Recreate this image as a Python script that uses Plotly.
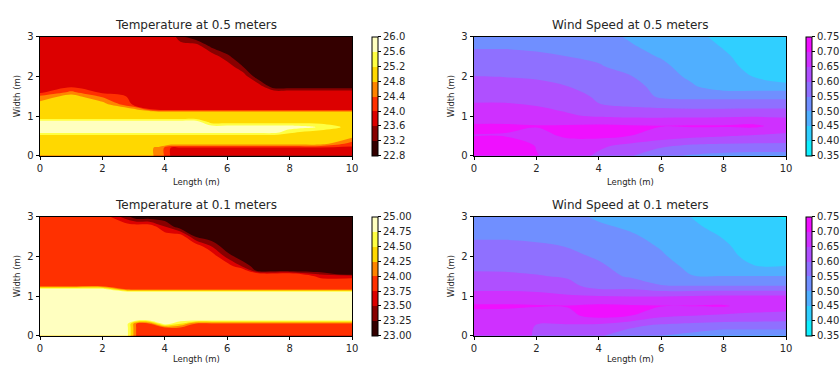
import plotly.graph_objects as go

# ---------------- data ----------------
# Temperature at 0.5 m (rows = width positions, columns = length positions)
temp05_x = [0, 1, 2, 3, 3.8, 4.2, 4.5, 5, 5.5, 6, 6.5, 7, 7.5, 8, 9, 10]
temp05_y = [0, 0.2, 0.3, 0.5, 0.6, 0.72, 0.85, 0.95, 1.1, 1.16, 1.3, 1.5, 1.6, 1.75, 2.0, 2.25, 2.5, 2.75, 3.0]
temp05_z = [
    [25.0, 25.0, 25.0, 25.0, 24.75, 23.95, 23.9, 23.9, 23.9, 23.9, 23.9, 23.9, 23.9, 23.9, 23.9, 23.9],
    [25.0, 25.0, 25.0, 25.0, 24.75, 23.95, 23.9, 23.9, 23.9, 23.9, 23.9, 23.9, 23.9, 23.9, 23.9, 23.9],
    [25.0, 25.0, 25.0, 25.0, 25.0, 25.0, 25.0, 25.0, 25.0, 25.0, 25.0, 25.0, 25.0, 25.0, 25.0, 24.2],
    [25.0, 25.0, 25.0, 25.0, 25.0, 25.0, 25.0, 25.0, 25.0, 25.0, 25.0, 25.0, 25.0, 25.0, 25.0, 25.0],
    [25.85, 25.85, 25.85, 25.85, 25.85, 25.85, 25.85, 25.85, 25.85, 25.85, 25.85, 25.85, 25.85, 25.3, 25.0, 25.0],
    [25.85, 25.85, 25.85, 25.85, 25.85, 25.85, 25.85, 25.85, 25.85, 25.85, 25.85, 25.85, 25.85, 25.85, 25.55, 25.0],
    [25.85, 25.85, 25.85, 25.85, 25.85, 25.85, 25.85, 25.85, 25.0, 25.0, 25.0, 25.0, 25.0, 25.0, 25.0, 25.0],
    [25.0, 25.0, 25.0, 25.0, 25.0, 25.0, 25.0, 25.0, 25.0, 25.0, 25.0, 25.0, 25.0, 25.0, 25.0, 25.0],
    [25.0, 25.0, 25.0, 25.0, 25.0, 25.0, 25.0, 25.0, 25.0, 25.0, 25.0, 25.0, 25.0, 25.0, 25.0, 25.0],
    [25.0, 25.0, 25.0, 25.0, 23.9, 23.9, 23.9, 23.9, 23.9, 23.9, 23.9, 23.9, 23.9, 23.9, 23.9, 23.9],
    [25.0, 25.0, 25.0, 23.9, 23.9, 23.9, 23.9, 23.9, 23.9, 23.9, 23.9, 23.9, 23.9, 23.9, 23.9, 23.9],
    [24.45, 25.0, 24.3, 23.9, 23.9, 23.9, 23.9, 23.9, 23.9, 23.9, 23.9, 23.9, 23.9, 23.9, 23.9, 23.9],
    [23.9, 24.5, 23.9, 23.9, 23.9, 23.9, 23.9, 23.9, 23.9, 23.9, 23.9, 23.9, 23.9, 23.9, 23.9, 23.9],
    [23.9, 23.9, 23.9, 23.9, 23.9, 23.9, 23.9, 23.9, 23.9, 23.9, 23.9, 23.9, 22.85, 22.85, 22.85, 22.85],
    [23.9, 23.9, 23.9, 23.9, 23.9, 23.9, 23.9, 23.9, 23.9, 23.9, 23.9, 22.85, 22.85, 22.85, 22.85, 22.85],
    [23.9, 23.9, 23.9, 23.9, 23.9, 23.9, 23.9, 23.9, 23.9, 23.9, 23.2, 22.85, 22.85, 22.85, 22.85, 22.85],
    [23.9, 23.9, 23.9, 23.9, 23.9, 23.9, 23.9, 23.9, 23.9, 23.3, 22.85, 22.85, 22.85, 22.85, 22.85, 22.85],
    [23.9, 23.9, 23.9, 23.9, 23.9, 23.9, 23.9, 23.9, 23.1, 22.85, 22.85, 22.85, 22.85, 22.85, 22.85, 22.85],
    [23.9, 23.9, 23.9, 23.9, 23.9, 23.9, 23.3, 22.85, 22.85, 22.85, 22.85, 22.85, 22.85, 22.85, 22.85, 22.85],
]
temp05_levels = [22.8, 23.2, 23.6, 24.0, 24.4, 24.8, 25.2, 25.6, 26.0]
temp05_ticks = ["22.8", "23.2", "23.6", "24.0", "24.4", "24.8", "25.2", "25.6", "26.0"]

# Temperature at 0.1 m
temp01_x = [0, 1, 2, 2.8, 3.1, 3.5, 4, 4.5, 5, 5.5, 6, 6.5, 7, 8, 9, 10]
temp01_y = [0, 0.2, 0.3, 0.4, 0.6, 0.9, 1.1, 1.17, 1.25, 1.5, 1.55, 1.65, 1.75, 2.0, 2.25, 2.5, 2.75, 3.0]
temp01_z = [
    [24.9, 24.9, 24.9, 24.8, 23.95, 23.95, 23.95, 23.95, 23.95, 23.95, 23.95, 23.95, 23.95, 23.95, 23.95, 23.95],
    [24.9, 24.9, 24.9, 24.8, 23.95, 23.95, 23.95, 23.95, 23.95, 23.95, 23.95, 23.95, 23.95, 23.95, 23.95, 23.95],
    [24.9, 24.9, 24.9, 24.8, 23.95, 23.95, 24.9, 24.5, 23.95, 23.95, 23.95, 23.95, 23.95, 23.95, 23.95, 23.95],
    [24.9, 24.9, 24.9, 24.9, 24.9, 24.9, 24.9, 24.9, 24.9, 24.9, 24.9, 24.9, 24.9, 24.9, 24.9, 24.9],
    [24.9, 24.9, 24.9, 24.9, 24.9, 24.9, 24.9, 24.9, 24.9, 24.9, 24.9, 24.9, 24.9, 24.9, 24.9, 24.9],
    [24.9, 24.9, 24.9, 24.9, 24.9, 24.9, 24.9, 24.9, 24.9, 24.9, 24.9, 24.9, 24.9, 24.9, 24.9, 24.9],
    [24.9, 24.9, 24.9, 24.9, 24.9, 24.9, 24.9, 24.9, 24.9, 24.9, 24.9, 24.9, 24.9, 24.9, 24.9, 24.9],
    [24.9, 24.9, 24.9, 23.95, 23.95, 23.95, 23.95, 23.95, 23.95, 23.95, 23.95, 23.95, 23.95, 23.95, 23.95, 23.95],
    [23.95, 23.95, 23.95, 23.95, 23.95, 23.95, 23.95, 23.95, 23.95, 23.95, 23.95, 23.95, 23.95, 23.95, 23.95, 23.95],
    [23.95, 23.95, 23.95, 23.95, 23.95, 23.95, 23.95, 23.95, 23.95, 23.95, 23.95, 23.95, 23.95, 23.95, 23.7, 23.7],
    [23.95, 23.95, 23.95, 23.95, 23.95, 23.95, 23.95, 23.95, 23.95, 23.95, 23.95, 23.95, 23.95, 23.95, 23.45, 23.05],
    [23.95, 23.95, 23.95, 23.95, 23.95, 23.95, 23.95, 23.95, 23.95, 23.95, 23.95, 23.95, 23.05, 23.05, 23.05, 23.05],
    [23.95, 23.95, 23.95, 23.95, 23.95, 23.95, 23.95, 23.95, 23.95, 23.95, 23.95, 23.45, 23.05, 23.05, 23.05, 23.05],
    [23.95, 23.95, 23.95, 23.95, 23.95, 23.95, 23.95, 23.95, 23.95, 23.95, 23.39, 23.05, 23.05, 23.05, 23.05, 23.05],
    [23.95, 23.95, 23.95, 23.95, 23.95, 23.95, 23.95, 23.95, 23.95, 23.5, 23.05, 23.05, 23.05, 23.05, 23.05, 23.05],
    [23.95, 23.95, 23.95, 23.95, 23.95, 23.95, 23.95, 23.95, 23.2, 23.05, 23.05, 23.05, 23.05, 23.05, 23.05, 23.05],
    [23.95, 23.95, 23.95, 23.95, 23.95, 23.95, 23.5, 23.05, 23.05, 23.05, 23.05, 23.05, 23.05, 23.05, 23.05, 23.05],
    [23.95, 23.95, 23.95, 23.32, 23.05, 23.05, 23.05, 23.05, 23.05, 23.05, 23.05, 23.05, 23.05, 23.05, 23.05, 23.05],
]
temp01_levels = [23.0, 23.25, 23.5, 23.75, 24.0, 24.25, 24.5, 24.75, 25.0]
temp01_ticks = ["23.00", "23.25", "23.50", "23.75", "24.00", "24.25", "24.50", "24.75", "25.00"]

# Wind speed grids
wind_x = [0, 1, 2, 3, 4, 5, 6, 7, 8, 9, 10]
wind_y = [0, 0.25, 0.5, 0.75, 1.0, 1.25, 1.5, 1.75, 2.0, 2.25, 2.5, 2.75, 3.0]
wind05_z = [
    [0.74, 0.735, 0.702, 0.68, 0.64, 0.605, 0.56, 0.545, 0.535, 0.53, 0.53],
    [0.735, 0.73, 0.698, 0.685, 0.66, 0.635, 0.61, 0.59, 0.585, 0.585, 0.585],
    [0.699, 0.698, 0.69, 0.705, 0.715, 0.70, 0.68, 0.665, 0.655, 0.645, 0.64],
    [0.705, 0.705, 0.702, 0.705, 0.71, 0.705, 0.702, 0.705, 0.705, 0.71, 0.675],
    [0.68, 0.68, 0.675, 0.655, 0.645, 0.64, 0.64, 0.64, 0.642, 0.645, 0.645],
    [0.655, 0.655, 0.65, 0.64, 0.604, 0.597, 0.59, 0.585, 0.585, 0.585, 0.585],
    [0.64, 0.64, 0.635, 0.625, 0.59, 0.585, 0.54, 0.535, 0.535, 0.535, 0.535],
    [0.62, 0.62, 0.615, 0.60, 0.58, 0.57, 0.53, 0.505, 0.4725, 0.4725, 0.4725],
    [0.601, 0.598, 0.593, 0.58, 0.565, 0.553, 0.52, 0.49, 0.465, 0.448, 0.41],
    [0.58, 0.58, 0.575, 0.565, 0.555, 0.53, 0.51, 0.48, 0.46, 0.44, 0.415],
    [0.565, 0.565, 0.56, 0.55, 0.54, 0.515, 0.497, 0.475, 0.455, 0.435, 0.42],
    [0.545, 0.545, 0.54, 0.535, 0.525, 0.505, 0.485, 0.465, 0.448, 0.43, 0.415],
    [0.53, 0.53, 0.53, 0.52, 0.515, 0.495, 0.47, 0.46, 0.44, 0.42, 0.41],
]
wind01_z = [
    [0.68, 0.68, 0.645, 0.635, 0.605, 0.575, 0.55, 0.535, 0.51, 0.51, 0.51],
    [0.685, 0.685, 0.647, 0.643, 0.635, 0.61, 0.59, 0.58, 0.575, 0.575, 0.575],
    [0.69, 0.688, 0.675, 0.69, 0.715, 0.70, 0.66, 0.65, 0.64, 0.635, 0.63],
    [0.705, 0.705, 0.703, 0.702, 0.71, 0.705, 0.702, 0.702, 0.705, 0.68, 0.675],
    [0.675, 0.675, 0.67, 0.655, 0.65, 0.648, 0.648, 0.65, 0.655, 0.655, 0.655],
    [0.625, 0.625, 0.62, 0.615, 0.58, 0.58, 0.552, 0.552, 0.552, 0.552, 0.552],
    [0.61, 0.608, 0.603, 0.595, 0.565, 0.545, 0.535, 0.501, 0.501, 0.501, 0.501],
    [0.59, 0.59, 0.585, 0.575, 0.556, 0.535, 0.515, 0.49, 0.47, 0.451, 0.451],
    [0.575, 0.575, 0.57, 0.56, 0.545, 0.525, 0.505, 0.48, 0.46, 0.44, 0.43],
    [0.56, 0.56, 0.556, 0.549, 0.53, 0.515, 0.497, 0.47, 0.455, 0.435, 0.425],
    [0.545, 0.545, 0.542, 0.535, 0.515, 0.505, 0.49, 0.465, 0.448, 0.43, 0.42],
    [0.53, 0.53, 0.53, 0.52, 0.505, 0.495, 0.48, 0.455, 0.44, 0.42, 0.41],
    [0.52, 0.52, 0.52, 0.51, 0.495, 0.485, 0.47, 0.449, 0.435, 0.41, 0.395],
]
wind_levels = [0.35, 0.40, 0.45, 0.50, 0.55, 0.60, 0.65, 0.70, 0.75]
wind_ticks = ["0.35", "0.40", "0.45", "0.50", "0.55", "0.60", "0.65", "0.70", "0.75"]

titles = ["Temperature at 0.5 meters", "Wind Speed at 0.5 meters",
          "Temperature at 0.1 meters", "Wind Speed at 0.1 meters"]
x_ticks = [0, 2, 4, 6, 8, 10]
y_ticks = [0, 1, 2, 3]


# ---------------- styling helpers ----------------
def hot(s):
    r = min(1.0, 0.0416 + (1 - 0.0416) * s / 0.365079)
    g = min(1.0, max(0.0, (s - 0.365079) / (0.746032 - 0.365079)))
    b = min(1.0, max(0.0, (s - 0.746032) / (1 - 0.746032)))
    return f"rgb({round(r*255)},{round(g*255)},{round(b*255)})"


def cool(s):
    return f"rgb({round(s*255)},{round((1-s)*255)},255)"


def band_colors(fn, n=8):
    return [fn((k + 0.5) / n) for k in range(n)]


def contour_scale(cols):
    # plotly evaluates band k at (k+1)/(n+1); below-start at 0, above-end at 1
    n = len(cols)
    sc = [[0.0, cols[0]]]
    for k in range(n):
        sc.append([(k + 1) / (n + 1), cols[k]])
    sc.append([1.0, cols[-1]])
    return sc


def step_scale(cols):
    n = len(cols)
    sc = []
    for k, c in enumerate(cols):
        sc.append([k / n, c])
        sc.append([(k + 1) / n, c])
    return sc


W, H = 840, 365
FONT = "DejaVu Sans"
TXT = "#262626"

# pixel geometry of the four plot areas
px_left = [40, 474, 40, 474]
px_right = [352, 786, 352, 786]
px_top = [36.7, 36.7, 216.7, 216.7]
px_bot = [155.7, 155.7, 335.7, 335.7]
cb_left = [372, 806, 372, 806]
xlabel_px = [181.5, 181.5, 358.5, 358.5]

panels = [
    (temp05_x, temp05_y, temp05_z, temp05_levels, temp05_ticks, hot),
    (wind_x, wind_y, wind05_z, wind_levels, wind_ticks, cool),
    (temp01_x, temp01_y, temp01_z, temp01_levels, temp01_ticks, hot),
    (wind_x, wind_y, wind01_z, wind_levels, wind_ticks, cool),
]

fig = go.Figure()
annotations = []
layout = dict(
    width=W, height=H, margin=dict(l=0, r=0, t=0, b=0, autoexpand=False),
    paper_bgcolor="white", plot_bgcolor="white",
    font=dict(family=FONT, color=TXT), showlegend=False,
)

for i, (xs, ys, zs, levels, ticks, cmap) in enumerate(panels):
    n = i + 1
    xa = "x" if n == 1 else f"x{n}"
    ya = "y" if n == 1 else f"y{n}"
    cols = band_colors(cmap, len(levels) - 1)
    step = levels[1] - levels[0]
    fig.add_trace(go.Contour(
        x=xs, y=ys, z=zs, xaxis=xa, yaxis=ya,
        contours=dict(start=levels[0], end=levels[-1], size=step,
                      coloring="fill", showlines=False),
        line=dict(width=0), colorscale=contour_scale(cols), showscale=False,
        hoverinfo="skip",
    ))
    y0 = (H - px_bot[i]) / H
    y1 = (H - px_top[i]) / H
    fig.add_trace(go.Scatter(
        x=[None], y=[None], xaxis=xa, yaxis=ya, mode="markers",
        marker=dict(color=[levels[0]], cmin=levels[0], cmax=levels[-1],
                    colorscale=step_scale(cols), showscale=True,
                    colorbar=dict(
                        x=cb_left[i] / W, xanchor="left", xpad=0,
                        y=(y0 + y1) / 2, yanchor="middle", ypad=0,
                        len=(y1 - y0), lenmode="fraction",
                        thickness=6, thicknessmode="pixels",
                        outlinewidth=1, outlinecolor="#000",
                        tickmode="array", tickvals=levels, ticktext=ticks,
                        ticks="outside", ticklen=3, tickwidth=1, tickcolor="#000",
                        tickfont=dict(size=10, color=TXT, family=FONT),
                    )),
        hoverinfo="skip",
    ))
    xkey = "xaxis" if n == 1 else f"xaxis{n}"
    ykey = "yaxis" if n == 1 else f"yaxis{n}"
    layout[xkey] = dict(
        domain=[px_left[i] / W, px_right[i] / W], anchor=ya, range=[0, 10],
        tickmode="array", tickvals=x_ticks, ticks="outside", ticklen=3.5,
        tickwidth=1, tickcolor="#000", showline=True, mirror=True,
        linecolor="#000", linewidth=1, showgrid=False, zeroline=False,
        tickfont=dict(size=10, color=TXT, family=FONT),
    )
    layout[ykey] = dict(
        domain=[y0, y1], anchor=xa, range=[0, 3],
        tickmode="array", tickvals=y_ticks, ticks="outside", ticklen=3.5,
        tickwidth=1, tickcolor="#000", showline=True, mirror=True,
        linecolor="#000", linewidth=1, showgrid=False, zeroline=False,
        tickfont=dict(size=10, color=TXT, family=FONT),
    )
    cx = (px_left[i] + px_right[i]) / 2 / W
    annotations.append(dict(
        text=titles[i], x=cx, y=(H - (px_top[i] - 12)) / H, xref="paper", yref="paper",
        xanchor="center", yanchor="middle", showarrow=False,
        font=dict(size=12, color=TXT, family=FONT),
    ))
    annotations.append(dict(
        text="Length (m)", x=cx, y=(H - xlabel_px[i]) / H, xref="paper", yref="paper",
        xanchor="center", yanchor="middle", showarrow=False,
        font=dict(size=8.5, color=TXT, family=FONT),
    ))
    annotations.append(dict(
        text="Width (m)", x=(px_left[i] - 23) / W, y=(y0 + y1) / 2, xref="paper", yref="paper",
        xanchor="center", yanchor="middle", showarrow=False, textangle=-90,
        font=dict(size=8.5, color=TXT, family=FONT),
    ))

layout["annotations"] = annotations
fig.update_layout(**layout)
fig.write_html("out.html")
